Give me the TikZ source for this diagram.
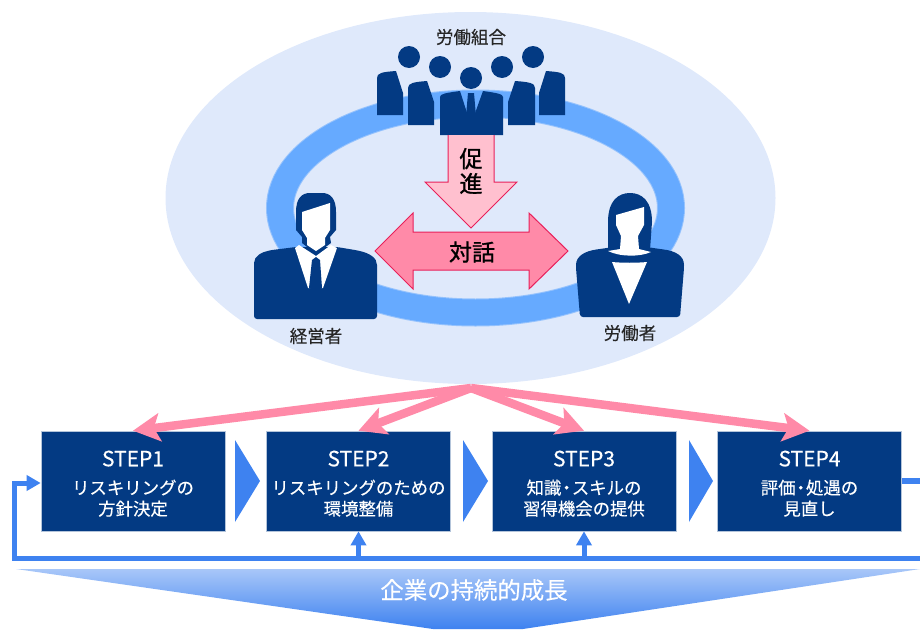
\documentclass[tikz,border=0pt]{standalone}
\usepackage{fontspec}
\setmainfont{Noto Sans CJK JP}
\newfontfamily\medfont[FakeBold=0.3]{Noto Sans CJK JP}
\newfontfamily\heavyfont[FakeBold=1.1]{Noto Sans CJK JP}
\usetikzlibrary{arrows.meta}
\definecolor{navy}{HTML}{033A83}
\definecolor{halo}{HTML}{DFE9FB}
\definecolor{ringblue}{HTML}{66AAFF}
\definecolor{flow}{HTML}{3E82F0}
\definecolor{pinkfill}{HTML}{FF8AA8}
\definecolor{pinklight}{HTML}{FFC0CF}
\definecolor{pinkedge}{HTML}{E8205A}
\newcommand{\stephead}[1]{\rule{0pt}{21pt}{\fontsize{21}{21}\selectfont #1}\\[7pt]}
\newcommand{\ndot}{\kern-3.5pt・\kern-3.5pt}
\tikzset{
  person/.style={fill=navy,draw=none},
  blank/.style={fill=white,draw=none},
  callout/.style={draw=pinkedge,line width=1pt,line join=miter},
  stepbox/.style={fill=navy,draw=white!70!navy,line width=.6pt,minimum width=184pt,minimum height=100pt,inner sep=0pt,text=white,align=center,font=\medfont\fontsize{17.4}{21}\selectfont},
  chevron/.style={fill=flow,draw=none},
  feedback/.style={draw=flow,line width=5.5pt},
  feedarrow/.style={draw=flow,line width=5pt,-{Triangle[length=14pt,width=15pt]}},
  pinkarrow/.style={draw=pinkfill,line width=8.5pt,-{Stealth[length=27pt,width=28pt,inset=6pt]}},
  tag/.style={inner sep=0pt,font=\medfont\fontsize{17.5}{18}\selectfont,text=black!85},
}
\begin{document}
\begin{tikzpicture}[x=1pt,y=-1pt]
\useasboundingbox (0,0) rectangle (920,629);
\clip (0,0) rectangle (920,629);
% halo and ring
\fill[halo] (470.5,198) ellipse [x radius=305,y radius=186];
\draw[ringblue!60!halo,line width=28pt] (475.5,208) ellipse [x radius=195.5,y radius=104.5];
\draw[ringblue,line width=26pt] (475.5,208) ellipse [x radius=195.5,y radius=104.5];
% union group
\fill[person] (409,57) circle (11);
\fill[person] (440,67) circle (11);
\fill[person] (471,78) circle (11);
\fill[person] (502,67) circle (11);
\fill[person] (533,57) circle (11);
\fill[person] (377,115) -- (377,78) .. controls (377,73) and (382,72) .. (396,71) -- (403,93) -- (403,115) -- cycle;
\fill[person] (408,125) -- (408,88) .. controls (408,83) and (414,82) .. (427,81) -- (434,102) -- (434,125) -- cycle;
\fill[person] (565,115) -- (565,78) .. controls (565,73) and (560,72) .. (546,71) -- (539,93) -- (539,115) -- cycle;
\fill[person] (535,125) -- (535,88) .. controls (535,83) and (529,82) .. (515,81) -- (508,102) -- (508,125) -- cycle;
\fill[person] (440,135) -- (440,97) .. controls (440,94) and (445,93) .. (460,91) -- (468,116) -- (471,93) -- (474,116) -- (483,91) .. controls (497,93) and (503,94) .. (503,97) -- (503,135) -- cycle;
\fill[person] (468,93) -- (474,93) -- (476,116) -- (471,117) -- (466,116) -- cycle;
% manager
\fill[person,rounded corners=3pt] (254,319) -- (254,266) .. controls (254,256) and (262,252) .. (272,250) -- (296,247) -- (337,247) -- (355,250) .. controls (370,253) and (377,258) .. (377,268) -- (377,319) -- cycle;
\fill[blank] (299,245) -- (295,248) -- (308,288) -- (323,288) -- (337,248) -- (331,245) -- (316,256) -- cycle;
\fill[person] (316,257) -- (320,260) -- (322,288) -- (316,291) -- (309,288) -- (312,260) -- cycle;
\fill[person] (296,212) .. controls (296,198) and (302,193) .. (310,193) -- (322,193) .. controls (330,193) and (336,198) .. (336,212) -- (336,230) -- (330,237) -- (331,243) -- (316,254) -- (302,243) -- (302,237) -- (296,230) -- cycle;
\fill[blank] (302,212) -- (330,203) -- (330,230) -- (325,238) -- (325,245) -- (316,251) -- (307,245) -- (307,238) -- (302,230) -- cycle;
% worker
\fill[person,rounded corners=3pt] (580,317) -- (576,268) .. controls (576,256) and (585,251) .. (600,249) -- (620,246) -- (640,246) -- (660,249) .. controls (676,251) and (684,256) .. (684,268) -- (680,317) -- cycle;
\fill[person] (608,250) -- (608,222) .. controls (608,201) and (618,193) .. (630,193) .. controls (642,193) and (652,201) .. (652,222) -- (650,250) -- cycle;
\fill[blank] (616,215) -- (644,207) -- (644,225) -- (638,236) -- (639,249) -- (651,252) .. controls (640,257) and (620,257) .. (608,251) -- (620,249) -- (621,236) -- (616,225) -- cycle;
\fill[blank] (612,262) .. controls (622,263) and (637,263) .. (647,262) -- (629,304) -- cycle;
% promote arrow
\filldraw[callout,fill=pinklight] (448,135) -- (448,182) -- (425,182) -- (471,228) -- (517,182) -- (494,182) -- (494,135);
\node[inner sep=0pt,align=center,font=\heavyfont\fontsize{23}{25}\selectfont] (promote) at (471,171) {促\\進};
% dialogue arrow
\filldraw[callout,fill=pinkfill] (375,251) -- (413,213) -- (413,232) -- (529,232) -- (529,213) -- (568,251) -- (529,289) -- (529,270) -- (413,270) -- (413,289) -- cycle;
\node[inner sep=0pt,font=\heavyfont\fontsize{23}{25}\selectfont] (dialogue) at (472,252) {対話};
% labels
\node[tag] (union) at (471,37) {労働組合};
\node[tag] (manager) at (316,336) {経営者};
\node[tag] (worker) at (630,333) {労働者};
% steps
\node[stepbox] (s1) at (133,481) {\stephead{STEP1}リスキリングの\\方針決定};
\node[stepbox] (s2) at (358.5,481) {\stephead{STEP2}リスキリングのための\\環境整備};
\node[stepbox] (s3) at (584,481) {\stephead{STEP3}知識\ndot スキルの\\習得機会の提供};
\node[stepbox] (s4) at (809.5,481) {\stephead{STEP4}評価\ndot 処遇の\\見直し};
% chevrons
\fill[chevron] (235,440) -- (260,481) -- (235,522) -- cycle;
\fill[chevron] (463,440) -- (488,481) -- (463,522) -- cycle;
\fill[chevron] (689,440) -- (713,481) -- (689,522) -- cycle;
% pink connectors
\coordinate (source) at (471,388);
\draw[pinkarrow] (source) -- (s1.north);
\draw[pinkarrow] (source) -- (s2.north);
\draw[pinkarrow] (source) -- (s3.north);
\draw[pinkarrow] (source) -- (s4.north);
% feedback
\coordinate (offright) at (920,558);
\coordinate (offtop) at (920,481);
\coordinate (corner) at (14,558);
\draw[feedback] (s4.east) -- (offtop);
\draw[feedarrow] (offright) -- (corner) -- (14,483) -- (s1.west |- 0,483);
\draw[feedarrow] (s2.south |- 0,558) -- (s2.south);
\draw[feedarrow] (s3.south |- 0,558) -- (s3.south);
% growth banner
\shade[top color=flow!45!white,bottom color=flow] (16,569) -- (920,569) -- (523,629) -- (433,629) -- cycle;
\node[inner sep=0pt,text=white,font=\medfont\fontsize{23.4}{25}\selectfont] (growth) at (474,590) {企業の持続的成長};
\end{tikzpicture}
\end{document}
